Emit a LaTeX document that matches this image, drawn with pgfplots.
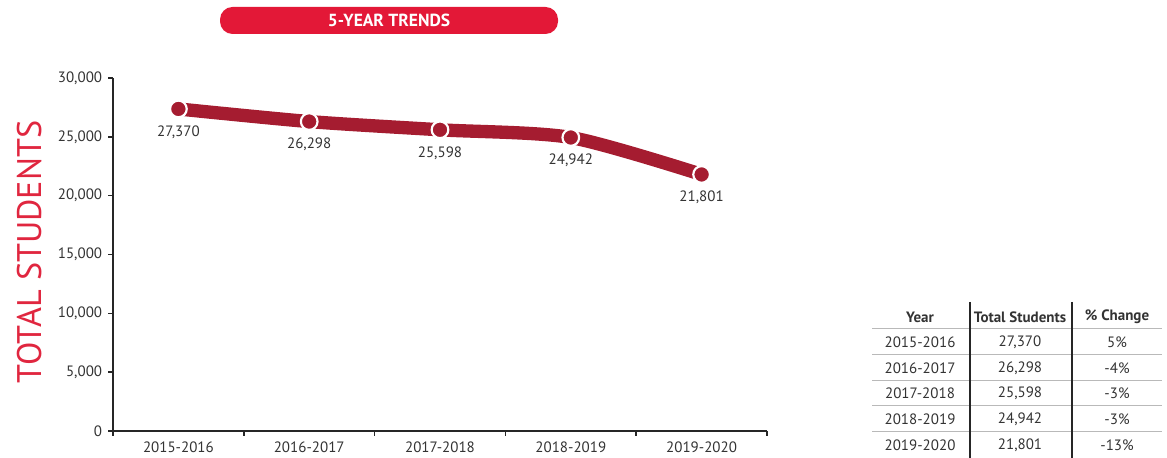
\documentclass[border=0pt]{standalone}
\usepackage{fontspec}
\setmainfont{PT Sans}
\usepackage{pgfplots}
\pgfplotsset{compat=1.18}
\definecolor{bannerred}{HTML}{E31837}
\definecolor{linered}{HTML}{A51C30}
\definecolor{txt}{HTML}{333333}
\definecolor{labred}{HTML}{E0263F}
\begin{document}
\begin{tikzpicture}
\useasboundingbox (0pt,0pt) rectangle (700.2pt,274.8pt);
\begin{scope}[x=0.6pt,y=-0.6pt,yshift=274.8pt]
% banner
\fill[bannerred, rounded corners=7.5pt] (220,7) rectangle (558,34);
\node[text=white, font=\bfseries\fontsize{10.5}{12}\selectfont] at (389,20.5) {5-YEAR TRENDS};
% y label
\node[rotate=90, text=labred, font=\fontsize{20.5}{24}\selectfont] at (30,252) {TOTAL STUDENTS};
% table
\foreach \yy in {328,354,380,405,431} {\draw[gray!55, line width=0.5pt] (872,\yy) -- (1162,\yy);}
\draw[black!85, line width=0.8pt] (970,302) -- (970,458);
\draw[black!85, line width=0.8pt] (1072,302) -- (1072,458);
\begin{scope}[every node/.style={text=txt, font=\fontsize{9}{10}\selectfont}]
\node[font=\bfseries\fontsize{9}{10}\selectfont] at (920,317) {Year};
\node[font=\bfseries\fontsize{9}{10}\selectfont] at (1020,317) {Total Students};
\node[font=\bfseries\fontsize{9}{10}\selectfont] at (1117,317) {\% Change};
\node at (920,342) {2015-2016}; \node at (1020,342) {27,370}; \node at (1117,342) {5\%};
\node at (920,368) {2016-2017}; \node at (1020,368) {26,298}; \node at (1117,368) {-4\%};
\node at (920,393) {2017-2018}; \node at (1020,393) {25,598}; \node at (1117,393) {-3\%};
\node at (920,419) {2018-2019}; \node at (1020,419) {24,942}; \node at (1117,419) {-3\%};
\node at (920,445) {2019-2020}; \node at (1020,445) {21,801}; \node at (1117,445) {-13\%};
\end{scope}
\end{scope}
\begin{axis}[
 at={(67.8pt,16.2pt)}, anchor=south west,
 scale only axis, width=392.4pt, height=211.8pt,
 xmin=-0.5, xmax=4.5, ymin=0, ymax=30000,
 axis lines=left, axis line style={-, line width=0.9pt, black!85},
 xtick={-0.5,0.5,...,4.5}, x tick label as interval,
 xticklabels={2015-2016,2016-2017,2017-2018,2018-2019,2019-2020},
 ytick={0,5000,...,30000}, scaled y ticks=false,
 tick align=outside, major tick length=3pt,
 tick style={line width=0.9pt, black!85},
 /pgf/number format/.cd, fixed, 1000 sep={,}, assume math mode=true, /pgfplots/.cd,
 ticklabel style={font=\fontsize{9}{10}\selectfont, text=txt},
 clip=false,
]
\addplot[linered, line width=8pt, smooth, tension=0.45,
  mark=*, mark size=5pt, mark options={fill=linered, draw=white, line width=1.3pt},
  nodes near coords, point meta=explicit symbolic,
  every node near coord/.append style={anchor=north, yshift=-6pt, text=txt, font=\fontsize{9}{10}\selectfont}]
 table[meta=lab] {
x y lab
0 27370 27,370
1 26298 26,298
2 25598 25,598
3 24942 24,942
4 21801 21,801
};
\end{axis}
\end{tikzpicture}
\end{document}
